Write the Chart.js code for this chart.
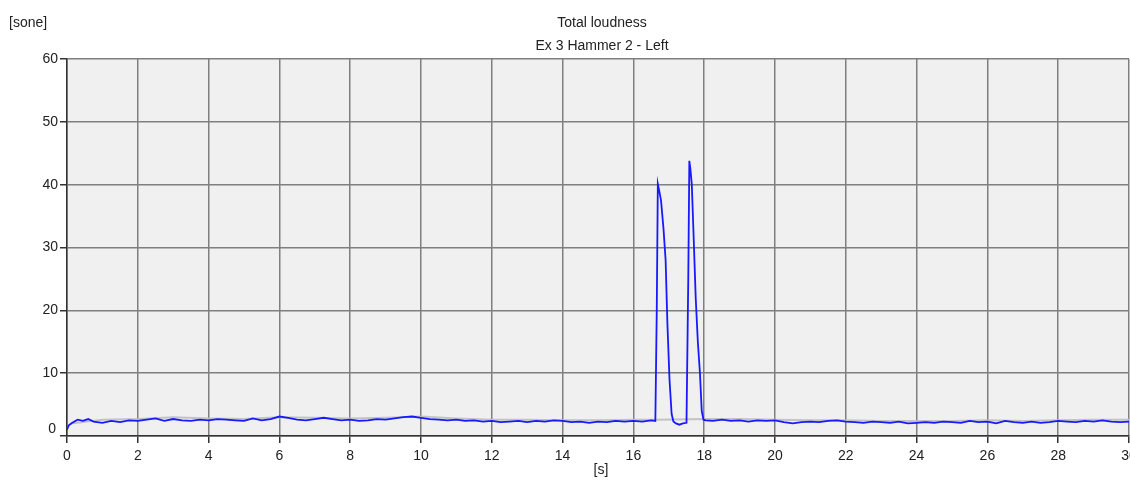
<!DOCTYPE html>
<html>
<head>
<meta charset="utf-8">
<script src="https://cdn.jsdelivr.net/npm/chart.js@4/dist/chart.umd.min.js"></script>
<style>
  html, body { margin: 0; padding: 0; background: #fff; }
  #wrap { width: 1130px; height: 481px; }
</style>
</head>
<body>
<div id="wrap"><canvas id="grafik"></canvas></div>
<script>
// waktu [s] dan loudness [sone] - kanal kiri (biru)
const waktu = [
  0, 0.05, 0.15, 0.3, 0.45, 0.6, 0.75, 1.0, 1.25, 1.5, 1.75, 2.0, 2.25, 2.5, 2.75,
  3.0, 3.25, 3.5, 3.75, 4.0, 4.25, 4.5, 4.75, 5.0, 5.25, 5.5, 5.75, 6.0, 6.25, 6.5,
  6.75, 7.0, 7.25, 7.5, 7.75, 8.0, 8.25, 8.5, 8.75, 9.0, 9.25, 9.5, 9.75, 10.0, 10.25,
  10.5, 10.75, 11.0, 11.25, 11.5, 11.75, 12.0, 12.25, 12.5, 12.75, 13.0, 13.25, 13.5, 13.75,
  14.0, 14.25, 14.5, 14.75, 15.0, 15.25, 15.5, 15.75, 16.0, 16.25, 16.5, 16.62,
  16.66, 16.69, 16.73, 16.78, 16.85, 16.91, 16.96, 17.02, 17.08, 17.13, 17.2, 17.3, 17.4, 17.5,
  17.55, 17.58, 17.61, 17.65, 17.7, 17.76, 17.82, 17.88, 17.93, 17.98, 18.05, 18.25,
  18.5, 18.75, 19.0, 19.25, 19.5, 19.75, 20.0, 20.25, 20.5, 20.75, 21.0, 21.25, 21.5, 21.75,
  22.0, 22.25, 22.5, 22.75, 23.0, 23.25, 23.5, 23.75, 24.0, 24.25, 24.5, 24.75, 25.0, 25.25,
  25.5, 25.75, 26.0, 26.25, 26.5, 26.75, 27.0, 27.25, 27.5, 27.75, 28.0, 28.25, 28.5, 28.75,
  29.0, 29.25, 29.5, 29.75, 30.0
];
const loudness = [
  1.0, 1.7, 2.1, 2.6, 2.4, 2.7, 2.3, 2.1, 2.4, 2.2, 2.5, 2.4, 2.6, 2.8, 2.4,
  2.7, 2.5, 2.4, 2.6, 2.5, 2.7, 2.6, 2.5, 2.4, 2.8, 2.5, 2.7, 3.1, 2.9, 2.6,
  2.5, 2.7, 2.9, 2.7, 2.5, 2.6, 2.4, 2.5, 2.7, 2.6, 2.8, 3.0, 3.1, 2.9, 2.7,
  2.6, 2.5, 2.6, 2.4, 2.5, 2.3, 2.4, 2.2, 2.3, 2.4, 2.2, 2.4, 2.3, 2.5,
  2.4, 2.2, 2.3, 2.1, 2.3, 2.2, 2.4, 2.3, 2.4, 2.3, 2.5, 2.4,
  20.0, 40.1, 39.0, 37.5, 33.0, 28.0, 18.0, 9.0, 3.5, 2.3, 2.0, 1.8, 2.0, 2.1,
  25.0, 43.8, 42.5, 40.0, 32.0, 22.0, 15.0, 10.0, 4.0, 2.6, 2.5, 2.4,
  2.6, 2.4, 2.5, 2.3, 2.5, 2.4, 2.5, 2.2, 2.0, 2.2, 2.3, 2.2, 2.4, 2.5,
  2.3, 2.2, 2.1, 2.3, 2.2, 2.1, 2.3, 2.0, 2.1, 2.2, 2.1, 2.3, 2.2, 2.1,
  2.4, 2.2, 2.3, 2.0, 2.4, 2.2, 2.1, 2.3, 2.1, 2.2, 2.4, 2.3, 2.2, 2.4,
  2.3, 2.5, 2.3, 2.2, 2.3
];
// kanal pembanding (abu-abu, di belakang)
const waktuAbu = [0.1, 1, 2, 3, 4, 5, 6, 7, 8, 9, 10, 11, 12, 13, 14, 15, 16, 16.6,
  18.1, 19, 20, 21, 22, 23, 24, 25, 26, 27, 28, 29, 30];
const loudnessAbu = [2.0, 2.6, 2.7, 3.0, 2.8, 2.7, 3.0, 2.9, 2.8, 2.9, 3.1, 2.8, 2.6, 2.6, 2.5, 2.5, 2.6, 2.6,
  2.7, 2.7, 2.6, 2.5, 2.5, 2.4, 2.4, 2.4, 2.5, 2.4, 2.5, 2.6, 2.6];

const xTicks = { min: 0, max: 30, step: 2 };
const yTicks = { min: 0, max: 60, step: 10 };

const FONT = '"Liberation Sans", Arial, sans-serif';

const latarPlot = {
  id: 'latarPlot',
  beforeDraw(chart) {
    const { ctx, chartArea: a } = chart;
    ctx.save();
    ctx.fillStyle = '#f0f0f0';
    ctx.fillRect(a.left, a.top, a.right - a.left, a.bottom - a.top);
    ctx.restore();
  },
  afterDraw(chart) {
    const { ctx } = chart;
    ctx.save();
    ctx.fillStyle = '#222';
    ctx.font = '14px ' + FONT;
    ctx.textBaseline = 'middle';
    ctx.textAlign = 'center';
    ctx.fillText('Total loudness', 602, 23);
    ctx.fillText('Ex 3 Hammer 2 - Left', 602, 46);
    ctx.fillText('[s]', 601, 470);
    ctx.textAlign = 'left';
    ctx.fillText('[sone]', 9, 23);
    // label 0 digeser sedikit ke atas seperti aslinya
    ctx.textAlign = 'right';
    ctx.fillText('0', 56, 429);
    ctx.restore();
  }
};

new Chart(document.getElementById('grafik'), {
  type: 'line',
  data: {
    datasets: [{
      label: 'Left',
      data: waktu.map((t, i) => ({ x: t, y: loudness[i] })),
      borderColor: 'rgb(25,25,255)',
      borderWidth: 1.8,
      pointRadius: 0,
      tension: 0
    }, {
      label: 'Ref',
      data: waktuAbu.map((t, i) => ({ x: t, y: loudnessAbu[i] })),
      borderColor: 'rgba(190,190,190,0.9)',
      borderWidth: 2,
      pointRadius: 0,
      tension: 0
    }]
  },
  options: {
    responsive: true, maintainAspectRatio: false,
    animation: false,
    layout: { padding: { left: 0, right: 1, top: 59, bottom: 0 } },
    plugins: { legend: { display: false }, tooltip: { enabled: false } },
    scales: {
      x: {
        type: 'linear', min: xTicks.min, max: xTicks.max,
        ticks: { stepSize: xTicks.step, color: '#222', font: { family: FONT, size: 14 }, padding: 5, maxRotation: 0, autoSkip: false },
        grid: { color: '#7f7f7f', lineWidth: 1.5, tickLength: 7, tickColor: '#333' },
        border: { color: '#333', width: 1.5 },
        afterFit(s) { s.height = 45; s.paddingLeft = 0; s.paddingRight = 0; }
      },
      y: {
        min: yTicks.min, max: yTicks.max,
        ticks: {
          stepSize: yTicks.step, color: '#222', font: { family: FONT, size: 14 }, padding: 2,
          callback: v => v === 0 ? '' : v
        },
        grid: { color: '#7f7f7f', lineWidth: 1.5, tickLength: 7, tickColor: '#333' },
        border: { color: '#333', width: 1.5 },
        afterFit(s) { s.width = 67; s.paddingTop = 0; s.paddingBottom = 0; }
      }
    }
  },
  plugins: [latarPlot]
});
</script>
</body>
</html>
